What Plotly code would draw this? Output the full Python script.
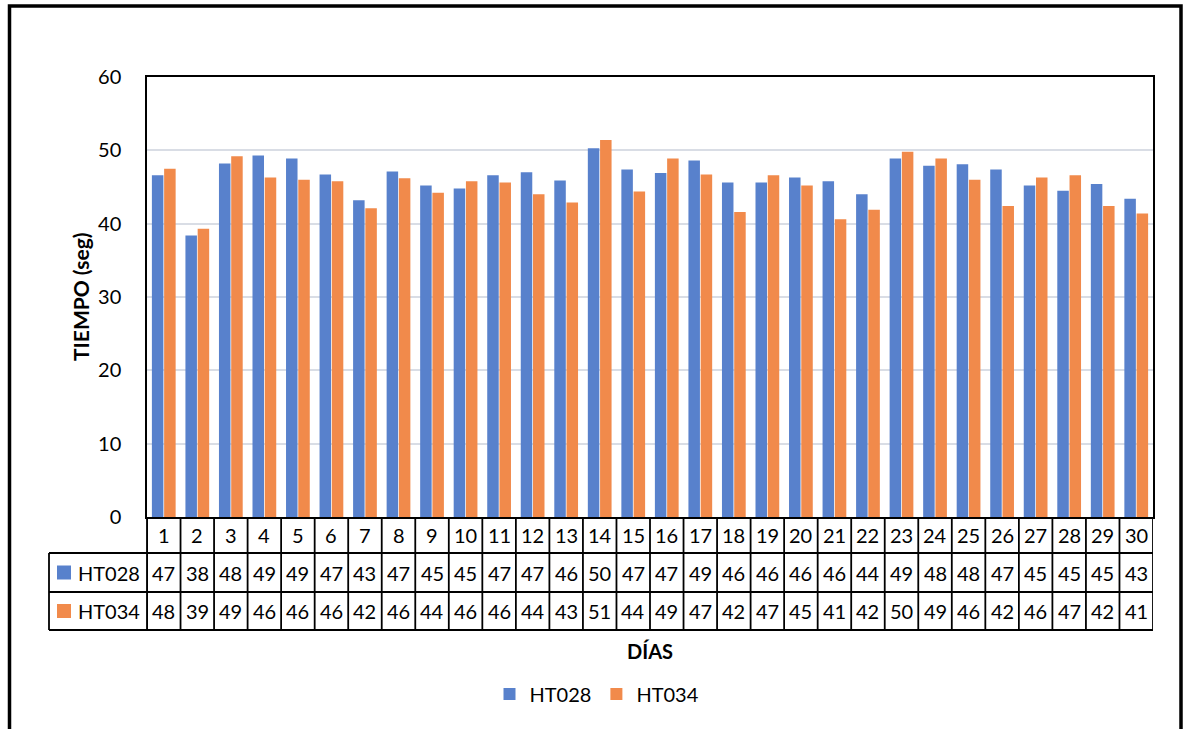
import numpy as np
import plotly.graph_objects as go

# Daily cycle time (seconds) for two machines over 30 days
dias = list(range(1, 31))
ht028 = [46.6, 38.4, 48.2, 49.3, 48.9, 46.7, 43.2, 47.1, 45.2, 44.8,
         46.6, 47.0, 45.9, 50.3, 47.4, 46.9, 48.6, 45.6, 45.6, 46.3,
         45.8, 44.0, 48.9, 47.9, 48.1, 47.4, 45.2, 44.5, 45.4, 43.4]
ht034 = [47.5, 39.3, 49.2, 46.3, 46.0, 45.8, 42.1, 46.2, 44.2, 45.8,
         45.6, 44.0, 42.9, 51.4, 44.4, 48.9, 46.7, 41.6, 46.6, 45.2,
         40.6, 41.9, 49.8, 48.9, 46.0, 42.4, 46.3, 46.6, 42.4, 41.4]
series_names = ["HT028", "HT034"]
series_vals = [ht028, ht034]
series_colors = ["#5881CC", "#F18A4B"]
y_ticks = [0, 10, 20, 30, 40, 50, 60]

FONT = "Lato"
FS = 20

fig = go.Figure()
for name, vals, col in zip(series_names, series_vals, series_colors):
    fig.add_trace(go.Bar(x=dias, y=vals, name=name, marker=dict(color=col, line=dict(width=0))))

# pixel geometry of the figure -> paper coordinates
W, H = 1186, 729
L, R, T, B = 147, 33, 77, 212
plot_w = W - L - R
plot_h = H - T - B


def px_x(p):
    return (p - L) / plot_w


def px_y(p):
    return (H - B - p) / plot_h


row_lines = [px_y(553), px_y(592), px_y(630)]
header_mid = px_y(535)
row_mids = [px_y(572.5), px_y(611)]
table_left = px_x(49)

shapes = []
line = dict(color="black", width=1.8)
# horizontal rules of the data table
for yl in row_lines:
    shapes.append(dict(type="line", xref="paper", yref="paper", x0=table_left, x1=1,
                       y0=yl, y1=yl, line=line))
# column separators follow the category axis
for i in range(len(dias) + 1):
    xv = dias[0] - 0.5 + i
    shapes.append(dict(type="line", xref="x", yref="paper", x0=xv, x1=xv,
                       y0=0, y1=row_lines[-1], line=line))
shapes.append(dict(type="line", xref="paper", yref="paper", x0=px_x(147), x1=px_x(147),
                   y0=0, y1=row_lines[-1], line=line))
shapes.append(dict(type="line", xref="paper", yref="paper", x0=table_left, x1=table_left,
                   y0=row_lines[0], y1=row_lines[-1], line=line))
# series keys inside the table
for mid, col in zip(row_mids, series_colors):
    shapes.append(dict(type="rect", xref="paper", yref="paper",
                       x0=px_x(57), x1=px_x(71), y0=mid - 7 / plot_h, y1=mid + 7 / plot_h,
                       fillcolor=col, line=dict(width=0)))
# outer chart border
shapes.append(dict(type="rect", xref="paper", yref="paper",
                   x0=px_x(9.5), x1=px_x(1181), y0=px_y(6), y1=px_y(760),
                   line=dict(color="black", width=3.5), fillcolor="rgba(0,0,0,0)"))

annotations = []
tf = dict(family=FONT, size=FS, color="black")
for d in dias:
    annotations.append(dict(x=d, y=header_mid, xref="x", yref="paper", text=str(d),
                            showarrow=False, font=tf, xanchor="center", yanchor="middle"))
for mid, name, vals in zip(row_mids, series_names, series_vals):
    annotations.append(dict(x=px_x(76), y=mid, xref="paper", yref="paper", text=name,
                            showarrow=False, font=tf, xanchor="left", yanchor="middle"))
    for d, v in zip(dias, vals):
        annotations.append(dict(x=d, y=mid, xref="x", yref="paper",
                                text=str(int(np.floor(v + 0.5))),
                                showarrow=False, font=tf, xanchor="center", yanchor="middle"))
annotations.append(dict(x=0.5, y=px_y(651), xref="paper", yref="paper", text="<b>DÍAS</b>",
                        showarrow=False, font=dict(family=FONT, size=FS, color="black"),
                        xanchor="center", yanchor="middle"))
annotations.append(dict(x=px_x(80), y=px_y(297), xref="paper", yref="paper",
                        text="<b>TIEMPO (seg)</b>", textangle=-90, showarrow=False,
                        font=dict(family=FONT, size=21, color="black"),
                        xanchor="center", yanchor="middle"))

fig.update_layout(
    width=W, height=H,
    margin=dict(l=L, r=R, t=T, b=B),
    paper_bgcolor="white", plot_bgcolor="white",
    barmode="group", bargap=0.27, bargroupgap=0.06,
    font=dict(family=FONT, size=FS, color="black"),
    showlegend=True,
    legend=dict(orientation="h", x=px_x(597), xanchor="center", y=px_y(694), yanchor="middle",
                font=dict(family=FONT, size=FS, color="black"), itemwidth=30,
                bgcolor="rgba(0,0,0,0)"),
    shapes=shapes,
    annotations=annotations,
)
fig.update_xaxes(range=[0.5, 30.5], showticklabels=False, ticks="", showgrid=False,
                 zeroline=False, showline=True, mirror=True, linecolor="black", linewidth=1.5)
fig.update_yaxes(range=[0, 60], tickvals=y_ticks, ticks="", showgrid=True,
                 gridcolor="#d9dde5", gridwidth=1.8, zeroline=False, showline=True,
                 mirror=True, linecolor="black", linewidth=1.5,
                 tickfont=dict(family=FONT, size=FS, color="black"), ticklabelstandoff=20)

fig.write_html("out.html")
